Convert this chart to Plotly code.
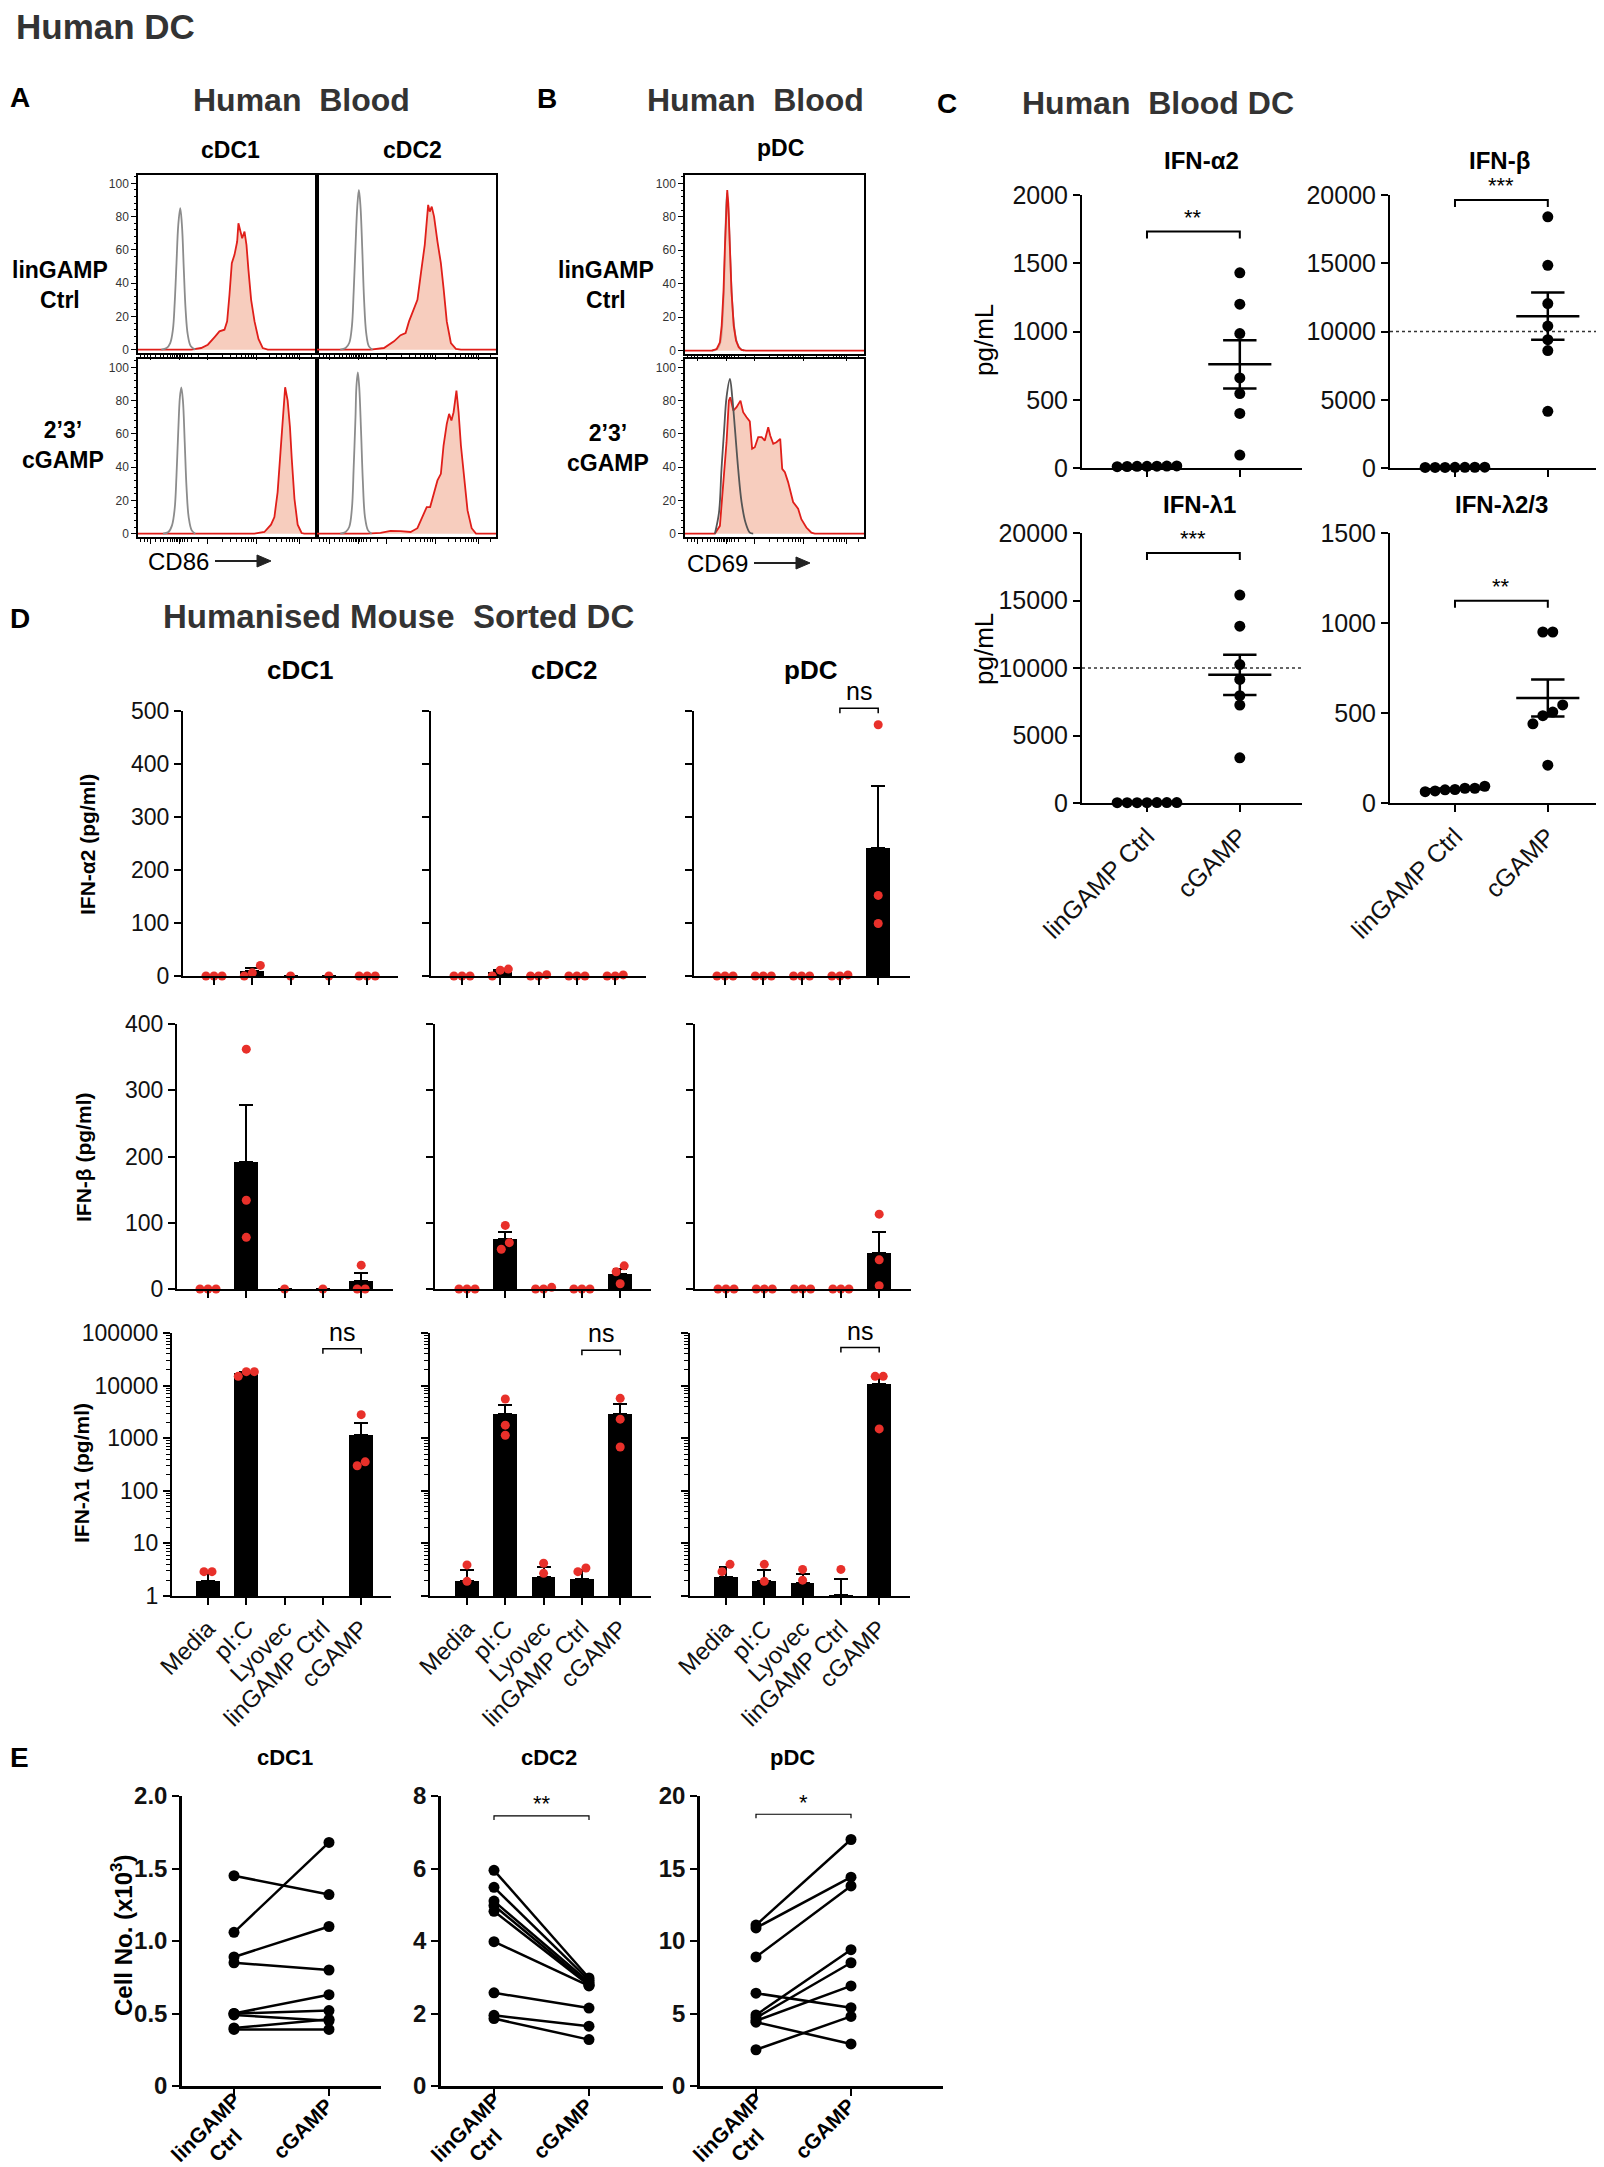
import numpy as np
import plotly.graph_objects as go

W, H = 1604, 2167
FONT = "Liberation Sans, Arial, Helvetica, sans-serif"
RED_DOT = "#e8302a"
HIST_RED = "#e01f1a"
HIST_FILL = "rgba(243,178,155,0.65)"

# ---------------- A / B : flow histograms (x = position across plot 0-100, y = % of max) ----------------
a1_gray_x = [13, 16, 18, 19.5, 20.5, 21.5, 22.5, 23.6, 24.6, 25.6, 26.6, 27.8, 29.5, 32]
a1_gray_y = [0, 1, 4, 12, 28, 52, 75, 85, 74, 48, 24, 9, 2, 0]
a1_red_x = [0, 29.7, 35.3, 39, 42.8, 45.5, 48.3, 49.8, 51.1, 52.4, 53.9, 55.4, 56.1, 57.2, 58.2, 59.5,
            60.6, 61.7, 63.2, 65.1, 67.3, 69.7, 72.5, 100]
a1_red_y = [0, 0, 1, 3, 7.6, 11, 12, 17, 33, 52, 57, 65, 76, 72, 67, 71, 63, 48, 30, 17, 6.5, 1, 0, 0]

a2_gray_x = [13, 16, 18, 19.5, 20.5, 21.5, 22.5, 23.4, 24.3, 25.3, 26.3, 27.5, 29, 31]
a2_gray_y = [0, 1, 4, 14, 35, 62, 86, 96, 86, 60, 30, 10, 2, 0]
a2_red_x = [0, 29.9, 37.4, 43, 46.7, 49.5, 51.4, 53.3, 56.1, 58.3, 60.2, 62.1, 63, 64.1, 65.4, 67.3,
            69.2, 70.7, 72.5, 74.8, 77.6, 80.4, 100]
a2_red_y = [0, 0, 1, 5, 8.7, 10, 17, 22, 30, 48, 63, 87, 83, 86, 80, 65, 52, 37, 17, 4, 0.5, 0, 0]

a3_gray_x = [14, 17, 19, 20.5, 21.5, 22.5, 23.4, 24.2, 25.1, 26.1, 27.1, 28.3, 30, 32]
a3_gray_y = [0, 1, 5, 15, 35, 62, 82, 88, 80, 55, 28, 10, 2, 0]
a3_red_x = [0, 65, 70.6, 74.3, 76.2, 78, 79.6, 80.9, 82.2, 83.6, 84.9, 85.9, 87.4, 89.2, 91.4, 92.9, 100]
a3_red_y = [0, 0, 1, 5.4, 10, 25, 49, 71, 88, 80, 64, 45, 21, 5.4, 0.4, 0, 0]

a4_gray_x = [13, 16, 18, 19.5, 20.5, 21.5, 22, 22.8, 23.6, 24.6, 25.6, 26.8, 28.5, 30.5]
a4_gray_y = [0, 1, 4, 15, 40, 70, 88, 97, 88, 62, 32, 10, 2, 0]
a4_red_x = [0, 28, 35.5, 41.1, 46.7, 52.3, 56.1, 58.9, 61.3, 63.2, 65, 67.3, 69.2, 70.7, 72.5, 73.8,
            75.1, 76.3, 77.9, 79.1, 80.4, 82.2, 84.1, 86.4, 88.8, 100]
a4_red_y = [0, 0, 0.5, 1.7, 1.5, 1, 3.3, 10, 16, 16, 23, 32, 36, 53, 66, 72, 68, 73, 86, 73, 53, 32,
            14, 3.3, 0, 0]

b1_gray_x = [15, 18, 19.8, 20.8, 21.8, 22.6, 23.4, 24.2, 25.1, 26.2, 27.5, 29, 31, 33]
b1_gray_y = [0, 1, 5, 15, 38, 70, 94, 85, 60, 32, 14, 5, 1, 0]
b1_red_x = [0, 15, 17.7, 19.5, 20.5, 21.5, 22.3, 23, 23.6, 24.2, 25, 26, 27.2, 28.5, 30, 31.6, 34, 100]
b1_red_y = [0, 0, 1, 5, 15, 35, 62, 85, 96, 88, 65, 35, 15, 6, 2, 0.5, 0, 0]

b2_gray_x = [16.7, 19, 20.4, 21.9, 23.2, 25.1, 26.4, 27.9, 29.7, 31.6, 33.8, 36.2, 38.1]
b2_gray_y = [0, 12.8, 39, 63, 82, 93, 82, 63, 39, 19, 6.7, 0.6, 0]
b2_red_x = [0, 16.7, 19.5, 21.4, 23.2, 24.5, 25.3, 27, 28.8, 31, 32.5, 34.4, 36.2, 37.5, 39, 40.9,
            42.8, 44.6, 46.5, 47.6, 49.3, 51.1, 53.2, 54.3, 55.8, 57.6, 60.4, 63.2, 65, 67.8, 70.6,
            72.5, 100]
b2_red_y = [0, 0, 4.7, 29, 55, 80, 82, 74, 76, 80, 73, 70, 67.5, 51, 52, 58, 58, 56, 64, 59, 54, 55,
            57, 39, 37, 31, 19, 15, 8.7, 3.7, 0.6, 0, 0]

# ---------------- C : human blood DC cytokines (pg/mL) ----------------
c_cats = ["linGAMP Ctrl", "cGAMP"]
ifna2_ctrl = [10, 14, 12, 15, 11, 13, 12]
ifna2_cgamp = [1430, 1200, 985, 660, 545, 400, 95]
ifnb_ctrl = [40, 60, 50, 45, 55, 50, 40]
ifnb_cgamp = [18400, 14850, 12050, 10400, 9400, 8600, 4150]
ifnl1_ctrl = [30, 20, 25, 30, 20, 25, 30]
ifnl1_cgamp = [15400, 13100, 10250, 9150, 7950, 7250, 3350]
ifnl23_ctrl = [73, 93, 75, 82, 63, 82, 67]
ifnl23_cgamp = [950, 950, 545, 505, 485, 440, 210]
c_sig = ["**", "***", "***", "**"]
c_bracket = [1732, 19640, 18520, 1123]

# ---------------- D : humanised mouse sorted DC (pg/ml) ----------------
d_cats = ["Media", "pI:C", "Lyovec", "linGAMP Ctrl", "cGAMP"]
a2_cdc1 = [[0, 0, 0], [20, 0, 6], [0], [0], [0, 0, 0]]
a2_cdc2 = [[0, 0, 0], [0, 13, 11], [0, 2.5, 0], [0, 0, 0], [0, 2, 0]]
a2_pdc = [[0, 0, 0], [0, 0, 0], [0, 0, 0], [0, 2, 0], [474, 152, 99]]
b_cdc1 = [[0, 0, 0], [362, 134, 78], [0], [0], [0, 36, 0]]
b_cdc2 = [[0, 0, 0], [96, 70, 60], [0, 2.5, 0], [0, 0, 0], [35, 26, 8]]
b_pdc = [[0, 0, 0], [0, 0, 0], [0, 0, 0], [0, 0, 0], [113, 44, 5]]
l1_cdc1 = [[2.9, 2.9, 0], [15000, 18400, 18400], [0], [0], [2800, 300, 355]]
l1_cdc2 = [[3.9, 1.9, 0], [5560, 1770, 1140], [4.2, 2.7, 0], [2.9, 3.4, 0], [5730, 2300, 680]]
l1_pdc = [[2.9, 4.0, 0], [4.0, 1.9, 0], [3.2, 2.0, 0], [3.2, 0, 0], [15000, 15000, 1500]]
a2_pdc_ns = 505
l1_ns = [50000, 47000, 53000]

# ---------------- E : cell numbers (x10^3) ----------------
e_cats = ["linGAMP<br>Ctrl", "cGAMP"]
e_cdc1_ctrl = [1.45, 1.06, 0.89, 0.85, 0.50, 0.50, 0.49, 0.40, 0.39]
e_cdc1_cgamp = [1.32, 1.68, 1.10, 0.80, 0.63, 0.52, 0.45, 0.46, 0.39]
e_cdc2_ctrl = [5.95, 5.48, 5.10, 4.98, 4.82, 3.98, 2.57, 1.95, 1.86]
e_cdc2_cgamp = [2.98, 2.92, 2.86, 2.80, 2.78, 2.76, 2.15, 1.65, 1.28]
e_pdc_ctrl = [11.1, 10.9, 8.9, 6.4, 4.9, 4.7, 4.5, 4.4, 2.5]
e_pdc_cgamp = [17.0, 14.4, 13.8, 5.4, 9.4, 8.5, 6.9, 2.9, 4.8]


def px(x):
    return x / W


def py(y):
    return 1 - y / H


fig = go.Figure()
layout_axes = {}
annotations = []
shapes = []
geom = {}


def make_axes(x0, x1, y_top, y_bot, xa, ya):
    n = len(geom) + 1
    s = "" if n == 1 else str(n)
    layout_axes["xaxis" + s] = dict(xa, domain=[px(x0), px(x1)], anchor="y" + s)
    layout_axes["yaxis" + s] = dict(ya, domain=[py(y_bot), py(y_top)], anchor="x" + s)
    geom["x" + s] = (x0, x1, xa["range"], y_top, y_bot, ya["range"], ya.get("type") == "log")
    return "x" + s, "y" + s


def to_px(xn, xv, yv):
    x0, x1, (lo, hi), yt, yb, (ylo, yhi), lg = geom[xn]
    v = np.log10(yv) if lg else yv
    return x0 + (xv - lo) / (hi - lo) * (x1 - x0), yb - (v - ylo) / (yhi - ylo) * (yb - yt)


def base(**kw):
    d = dict(showgrid=False, zeroline=False, showline=True, linecolor="black", linewidth=2,
             ticks="outside", tickcolor="black", tickwidth=2, ticklen=7, fixedrange=True, automargin=False)
    d.update(kw)
    return d


def text(x, y, s, size, bold=False, color="black", xanchor="center", angle=0):
    if bold:
        s = "<b>" + s + "</b>"
    annotations.append(dict(x=px(x), y=py(y), xref="paper", yref="paper", text=s, showarrow=False,
                            textangle=angle, font=dict(family=FONT, size=size, color=color),
                            xanchor=xanchor, yanchor="middle"))


def path(points, width, color="black", fill=None):
    d = "M " + " L ".join("%.5f,%.5f" % (px(a), py(b)) for a, b in points)
    if fill:
        d += " Z"
    shapes.append(dict(type="path", xref="paper", yref="paper", path=d,
                       line=dict(color=color, width=width), fillcolor=fill))


def bracket(xn, xa, xb, y_line, drop_px, width):
    (ax, ay), (bx, by) = to_px(xn, xa, y_line), to_px(xn, xb, y_line)
    path([(ax, ay + drop_px), (ax, ay), (bx, by), (bx, by + drop_px)], width)
    return (ax + bx) / 2, ay


def arrow(xs, xe, yy):
    path([(xs, yy), (xe - 12, yy)], 2, "#222")
    path([(xe - 14, yy - 6), (xe, yy), (xe - 14, yy + 6)], 1, "#222", fill="#222")


def swarm(vals, tol, step, log=False):
    v = np.asarray(vals, float)
    key = np.full(len(v), np.nan)
    if log:
        key[v > 0] = np.log10(v[v > 0])
    else:
        key = v.copy()
    order = np.argsort(np.nan_to_num(key, nan=-99))
    offs = np.zeros(len(v))
    cluster, prev = [], None

    def flush(c):
        for i, idx in enumerate(c):
            offs[idx] = (i - (len(c) - 1) / 2) * step

    for idx in order:
        k = key[idx]
        if np.isnan(k):
            continue
        if cluster and k - prev > tol:
            flush(cluster)
            cluster = []
        cluster.append(idx)
        prev = k
    if cluster:
        flush(cluster)
    return offs


def sem(g):
    g = np.asarray(g, float)
    return float(np.std(g, ddof=1) / np.sqrt(len(g))) if len(g) > 1 else float("nan")


# ---------------- panel A / B ----------------
flow_major = [7, 23, 39, 66, 90]
flow_minor = [1.5, 3.5, 5.5, 10, 12.5, 14.5, 16.5, 18, 19.5, 20.5, 21.5, 22.3, 23.7, 24.6, 25.8, 27.5,
              30, 34, 47.1, 51.9, 55.3, 57.9, 60, 61.8, 63.4, 64.8, 73.2, 77.5, 80.4, 82.8, 84.7, 86.3,
              87.7, 88.9, 97]


def hist_panel(x0, x1, y_top, y_bot, labels, gx, gy, rx, ry, gray_color="#8c8c8c", gray_first=False):
    xa = base(range=[0, 100], mirror=True, linewidth=1.5, ticklen=5, tickwidth=1.2, tickvals=flow_major,
              showticklabels=False,
              minor=dict(ticks="outside", ticklen=3, tickwidth=1, tickcolor="black", tickvals=flow_minor))
    ya = base(range=[-2, 105], mirror=True, linewidth=1.5, ticklen=5, tickwidth=1.2,
              tickvals=[0, 20, 40, 60, 80, 100], showticklabels=labels, ticks="outside" if labels else "",
              tickfont=dict(family=FONT, size=12, color="#333"))
    if labels:
        ya["minor"] = dict(ticks="outside", ticklen=2.5, tickwidth=1, tickcolor="black", dtick=4, tick0=0)
    xn, yn = make_axes(x0, x1, y_top, y_bot, xa, ya)
    gray = go.Scatter(x=gx, y=gy, mode="lines", line=dict(color=gray_color, width=1.8, shape="spline"),
                      xaxis=xn, yaxis=yn, hoverinfo="skip")
    red = go.Scatter(x=rx, y=ry, mode="lines", line=dict(color=HIST_RED, width=1.8), fill="tozeroy",
                     fillcolor=HIST_FILL, xaxis=xn, yaxis=yn, hoverinfo="skip")
    if gray_first:
        fig.add_trace(gray)
        fig.add_trace(red)
    else:
        fig.add_trace(red)
        fig.add_trace(gray)


hist_panel(130, 309, 167, 345, True, a1_gray_x, a1_gray_y, a1_red_x, a1_red_y)
hist_panel(309, 488, 167, 345, False, a2_gray_x, a2_gray_y, a2_red_x, a2_red_y)
hist_panel(130, 309, 351, 529, True, a3_gray_x, a3_gray_y, a3_red_x, a3_red_y)
hist_panel(309, 488, 351, 529, False, a4_gray_x, a4_gray_y, a4_red_x, a4_red_y)
hist_panel(677, 856, 167, 346, True, b1_gray_x, b1_gray_y, b1_red_x, b1_red_y, gray_first=True)
hist_panel(677, 856, 351, 529, True, b2_gray_x, b2_gray_y, b2_red_x, b2_red_y, gray_color="#555555")

text(6, 19, "Human DC", 35, bold=True, color="#333", xanchor="left")
text(0, 90, "A", 28, bold=True, xanchor="left")
text(293, 92, "Human\u00a0 Blood", 32, bold=True, color="#333")
text(222, 142, "cDC1", 23, bold=True)
text(404, 142, "cDC2", 23, bold=True)
text(52, 277, "linGAMP<br>Ctrl", 23, bold=True)
text(55, 437, "2’3’<br>cGAMP", 23, bold=True)
text(138, 553, "CD86", 24, xanchor="left")
text(527, 91, "B", 28, bold=True, xanchor="left")
text(747, 92, "Human\u00a0 Blood", 32, bold=True, color="#333")
text(772, 140, "pDC", 23, bold=True)
text(598, 277, "linGAMP<br>Ctrl", 23, bold=True)
text(600, 440, "2’3’<br>cGAMP", 23, bold=True)
text(677, 555, "CD69", 24, xanchor="left")
arrow(207, 263, 553)
arrow(746, 802, 555)

# ---------------- panel C ----------------
C_LO, C_HI = -0.70, 1.67


def c_panel(x0, x1, y_top, y_bot, ymax, dtick, ctrl, cgamp, show_x, sig, brk, refline=None):
    ticks = list(range(0, ymax + 1, dtick))
    xa = base(range=[C_LO, C_HI], tickvals=[0, 1], ticktext=c_cats, showticklabels=show_x, tickangle=-45,
              tickfont=dict(family=FONT, size=25, color="#111"))
    ya = base(range=[0, ymax], tickvals=ticks, ticktext=[str(t) for t in ticks],
              tickfont=dict(family=FONT, size=25, color="#111"))
    xn, yn = make_axes(x0, x1, y_top, y_bot, xa, ya)
    unit_px = (y_bot - y_top) / ymax
    if refline is not None:
        fig.add_trace(go.Scatter(x=[C_LO, C_HI], y=[refline, refline], mode="lines",
                                 line=dict(color="#333", width=1.5, dash="dot"), xaxis=xn, yaxis=yn))
    xs, ys, lx, ly = [], [], [], []
    for i, g in enumerate([ctrl, cgamp]):
        xs += list(i + swarm(g, 9 / unit_px, 0.107))
        ys += list(g)
        m, s = float(np.mean(g)), sem(g)
        lx += [i - 0.34, i + 0.34, None, i - 0.18, i + 0.18, None, i - 0.18, i + 0.18, None, i, i, None]
        ly += [m, m, None, m + s, m + s, None, m - s, m - s, None, m - s, m + s, None]
    fig.add_trace(go.Scatter(x=xs, y=ys, mode="markers", marker=dict(color="black", size=11),
                             xaxis=xn, yaxis=yn, cliponaxis=False))
    fig.add_trace(go.Scatter(x=lx, y=ly, mode="lines", line=dict(color="black", width=2.5),
                             xaxis=xn, yaxis=yn))
    cx, cy = bracket(xn, 0, 1, brk, 7, 2)
    text(cx, cy - 14, sig, 22)


c_panel(1074, 1294, 187, 460, 2000, 500, ifna2_ctrl, ifna2_cgamp, False, c_sig[0], c_bracket[0])
c_panel(1382, 1602, 187, 460, 20000, 5000, ifnb_ctrl, ifnb_cgamp, False, c_sig[1], c_bracket[1], 10000)
c_panel(1074, 1294, 525, 795, 20000, 5000, ifnl1_ctrl, ifnl1_cgamp, True, c_sig[2], c_bracket[2], 10000)
c_panel(1382, 1602, 525, 795, 1500, 500, ifnl23_ctrl, ifnl23_cgamp, True, c_sig[3], c_bracket[3])

text(927, 95, "C", 28, bold=True, xanchor="left")
text(1150, 95, "Human\u00a0 Blood DC", 32, bold=True, color="#333")
text(1193, 153, "IFN-α2", 24, bold=True)
text(1491, 153, "IFN-β", 24, bold=True)
text(1191, 497, "IFN-λ1", 24, bold=True)
text(1493, 497, "IFN-λ2/3", 24, bold=True)
text(976, 332, "pg/mL", 26, angle=-90)
text(976, 641, "pg/mL", 26, angle=-90)

# ---------------- panel D ----------------
D_STEP = 38.3
log_minor = [k * 10 ** d for d in range(5) for k in range(2, 10)]


def d_panel(x0, x1, cat0, y_top, y_bot, groups, ymax, dtick, log, show_y, show_x):
    lo = -(cat0 - x0) / D_STEP
    hi = lo + (x1 - x0) / D_STEP
    xa = base(range=[lo, hi], tickvals=list(range(5)), ticktext=d_cats, showticklabels=show_x,
              tickangle=-45, tickfont=dict(family=FONT, size=24, color="#111"))
    if log:
        ya = base(type="log", range=[0, 5], tickvals=[1, 10, 100, 1000, 10000, 100000],
                  ticktext=["1", "10", "100", "1000", "10000", "100000"], showticklabels=show_y,
                  tickfont=dict(family=FONT, size=23, color="#111"),
                  minor=dict(ticks="outside", ticklen=4, tickwidth=1.2, tickcolor="black", tickvals=log_minor))
        tol = 8 / ((y_bot - y_top) / 5)
    else:
        ya = base(range=[0, ymax], tickvals=list(range(0, ymax + 1, dtick)), showticklabels=show_y,
                  tickfont=dict(family=FONT, size=23, color="#111"))
        tol = 8 / ((y_bot - y_top) / ymax)
    xn, yn = make_axes(x0, x1, y_top, y_bot, xa, ya)
    means, sems = [], []
    for g in groups:
        m = float(np.mean(g))
        means.append(m if (m > 0 or not log) else None)
        s = sem(g)
        sems.append(None if (np.isnan(s) or (log and m <= 0)) else s)
    fig.add_trace(go.Bar(x=list(range(5)), y=means, width=0.62, marker=dict(color="black", line=dict(width=0)),
                         error_y=dict(type="data", symmetric=False, array=sems, arrayminus=[0] * 5,
                                      color="black", thickness=2, width=7),
                         xaxis=xn, yaxis=yn))
    xs, ys = [], []
    for i, g in enumerate(groups):
        xs += list(i + swarm(g, tol, 0.21, log))
        ys += list(g)
    fig.add_trace(go.Scatter(x=xs, y=ys, mode="markers", marker=dict(color=RED_DOT, size=9),
                             xaxis=xn, yaxis=yn, cliponaxis=False))
    return xn


def d_ns(xn, y_line):
    cx, cy = bracket(xn, 3, 4, y_line, 5, 1.5)
    text(cx, cy - 17, "ns", 25)


row1 = [(175, 390, 206), (423, 638, 454), (686, 902, 717)]
row2 = [(169, 385, 200), (427, 643, 459), (687, 903, 718)]
row3 = [(164, 383, 200), (422, 643, 459), (682, 902, 718)]
for j, g in enumerate([a2_cdc1, a2_cdc2, a2_pdc]):
    x0, x1, c0 = row1[j]
    xn = d_panel(x0, x1, c0, 703, 968, g, 500, 100, False, j == 0, False)
    if j == 2:
        d_ns(xn, a2_pdc_ns)
for j, g in enumerate([b_cdc1, b_cdc2, b_pdc]):
    x0, x1, c0 = row2[j]
    d_panel(x0, x1, c0, 1016, 1281, g, 400, 100, False, j == 0, False)
for j, g in enumerate([l1_cdc1, l1_cdc2, l1_pdc]):
    x0, x1, c0 = row3[j]
    xn = d_panel(x0, x1, c0, 1325, 1588, g, None, None, True, j == 0, True)
    d_ns(xn, l1_ns[j])

text(0, 611, "D", 28, bold=True, xanchor="left")
text(153, 608, "Humanised Mouse\u00a0 Sorted DC", 33, bold=True, color="#333", xanchor="left")
text(292, 662, "cDC1", 26, bold=True)
text(556, 662, "cDC2", 26, bold=True)
text(803, 662, "pDC", 26, bold=True)
text(80, 837, "IFN-α2 (pg/ml)", 21, bold=True, angle=-90)
text(75, 1150, "IFN-β (pg/ml)", 21, bold=True, angle=-90)
text(73, 1465, "IFN-λ1 (pg/ml)", 21, bold=True, angle=-90)

# ---------------- panel E ----------------
E_STEP = 95.0
E_LABEL_OFFSET = [(-18.5, 50), (-26.5, 42)]
E_LINE_GAP = 26


def e_panel(x0, x1, cat0, ctrl, cgamp, ymax, ticks, labels, sig=None):
    lo = -(cat0 - x0) / E_STEP
    hi = lo + (x1 - x0) / E_STEP
    xa = base(range=[lo, hi], tickvals=[0, 1], showticklabels=False, linewidth=2.5)
    ya = base(range=[0, ymax], tickvals=ticks, ticktext=["<b>%s</b>" % t for t in labels], linewidth=2.5,
              tickfont=dict(family=FONT, size=24, color="#111"))
    xn, yn = make_axes(x0, x1, 1788, 2078, xa, ya)
    for a, b in zip(ctrl, cgamp):
        fig.add_trace(go.Scatter(x=[0, 1], y=[a, b], mode="lines+markers", line=dict(color="black", width=2.5),
                                 marker=dict(color="black", size=11), xaxis=xn, yaxis=yn, cliponaxis=False))
    # rotated category labels, one annotation per text line
    for i, lab in enumerate(e_cats):
        tx, ty = to_px(xn, i, 0)
        dx, dy = E_LABEL_OFFSET[i]
        lines = lab.split("<br>")
        for k, line in enumerate(lines):
            shift = (k - (len(lines) - 1) / 2) * E_LINE_GAP * 0.7071
            text(tx + dx + shift, ty + dy + shift, line, 21, bold=True, angle=-45)
    if sig is not None:
        s, yl = sig
        cx, cy = bracket(xn, 0, 1, yl, 4, 1.2)
        text(cx, cy - 12, s, 22)


e_panel(174, 373, 226, e_cdc1_ctrl, e_cdc1_cgamp, 2.0, [0, 0.5, 1.0, 1.5, 2.0],
        ["0", "0.5", "1.0", "1.5", "2.0"])
e_panel(433, 655, 486, e_cdc2_ctrl, e_cdc2_cgamp, 8, [0, 2, 4, 6, 8], ["0", "2", "4", "6", "8"],
        ("**", 7.45))
e_panel(692, 935, 748, e_pdc_ctrl, e_pdc_cgamp, 20, [0, 5, 10, 15, 20], ["0", "5", "10", "15", "20"],
        ("*", 18.74))

text(0, 1749, "E", 28, bold=True, xanchor="left")
text(277, 1749, "cDC1", 22, bold=True)
text(541, 1749, "cDC2", 22, bold=True)
text(784, 1749, "pDC", 22, bold=True)
text(114, 1928, "Cell No. (x10<sup>3</sup>)", 24, bold=True, angle=-90)

fig.update_layout(template="none", width=W, height=H, margin=dict(l=0, r=0, t=0, b=0, autoexpand=False),
                  paper_bgcolor="white", plot_bgcolor="white", showlegend=False,
                  annotations=annotations, shapes=shapes, bargap=0,
                  font=dict(family=FONT, color="#111"), **layout_axes)

fig.write_html("out.html")
